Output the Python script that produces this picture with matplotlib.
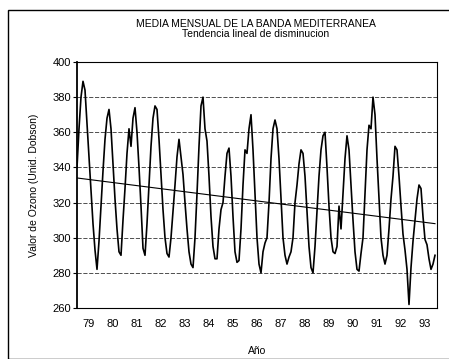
import numpy as np
import matplotlib
matplotlib.use("Agg")
import matplotlib.pyplot as plt
from matplotlib.patches import Rectangle

# Monthly ozone means (Dobson units), Jan 1979 - Dec 1993
years = list(range(1979, 1994))
ozone_1979 = [340, 362, 380, 389, 384, 365, 345, 326, 308, 293, 282, 298]
ozone_1980 = [318, 338, 356, 368, 373, 362, 342, 322, 305, 292, 290, 310]
ozone_1981 = [328, 348, 362, 352, 368, 374, 360, 340, 318, 294, 290, 308]
ozone_1982 = [330, 352, 368, 375, 373, 356, 336, 316, 300, 291, 289, 300]
ozone_1983 = [315, 330, 346, 356, 346, 336, 320, 305, 292, 285, 283, 300]
ozone_1984 = [325, 352, 375, 380, 362, 355, 335, 312, 295, 288, 288, 305]
ozone_1985 = [316, 320, 335, 348, 351, 335, 312, 292, 286, 287, 305, 330]
ozone_1986 = [350, 348, 362, 370, 350, 325, 300, 285, 280, 292, 297, 300]
ozone_1987 = [320, 345, 362, 367, 362, 345, 322, 300, 290, 285, 289, 292]
ozone_1988 = [300, 320, 330, 342, 350, 348, 335, 315, 295, 283, 280, 295]
ozone_1989 = [315, 335, 350, 358, 360, 340, 318, 300, 292, 291, 295, 318]
ozone_1990 = [305, 325, 345, 358, 350, 330, 310, 292, 282, 281, 291, 300]
ozone_1991 = [325, 350, 364, 362, 380, 370, 345, 322, 300, 290, 285, 290]
ozone_1992 = [305, 322, 335, 352, 350, 335, 318, 302, 293, 282, 262, 283]
ozone_1993 = [298, 310, 322, 330, 328, 312, 299, 296, 288, 282, 285, 290]

# linear trend end points
trend_start = 334
trend_end = 308

year_labels = [str(y)[2:] for y in years]

ozone = np.array(ozone_1979 + ozone_1980 + ozone_1981 + ozone_1982 + ozone_1983
                 + ozone_1984 + ozone_1985 + ozone_1986 + ozone_1987 + ozone_1988
                 + ozone_1989 + ozone_1990 + ozone_1991 + ozone_1992 + ozone_1993)
t = years[0] + np.arange(len(ozone)) / 12.0

plt.rcParams["font.family"] = ["Liberation Sans", "DejaVu Sans"]

fig = plt.figure(figsize=(4.49, 3.59), dpi=100)
fig.patches.append(Rectangle((8 / 449, 0), 1, 1 - 10 / 359, transform=fig.transFigure,
                             fill=False, edgecolor="black", linewidth=1.0))

ax = fig.add_axes([77 / 449, 51 / 359, 360 / 449, 246 / 359])
ax.plot(t, ozone, color="black", linewidth=1.2)
ax.plot([t[0], t[-1]], [trend_start, trend_end], color="black", linewidth=0.8)

ax.set_xlim(years[0], years[-1] + 1)
ax.set_ylim(260, 400)
ax.set_yticks(range(260, 401, 20))
ax.set_xticks([y + 0.5 for y in years])
ax.set_xticklabels(year_labels)
ax.tick_params(axis="x", length=0, labelsize=8, pad=8)
ax.tick_params(axis="y", length=3, labelsize=8, pad=1, direction="out")
ax.grid(axis="y", color="#333333", linestyle=(0, (5, 2)), linewidth=0.6)
for side in ["top", "bottom", "right"]:
    ax.spines[side].set_linewidth(0.8)
ax.spines["left"].set_linewidth(1.3)

ax.set_ylabel("Valor de Ozono (Unid. Dobson)", fontsize=7.5, labelpad=10)
ax.set_xlabel("Año", fontsize=7.5, labelpad=12)
fig.text(0.57, 1 - 29 / 359, "MEDIA MENSUAL DE LA BANDA MEDITERRANEA\nTendencia lineal de disminucion",
         ha="center", va="center", fontsize=7.5, linespacing=1.1)

plt.savefig("out.png", dpi=100)
